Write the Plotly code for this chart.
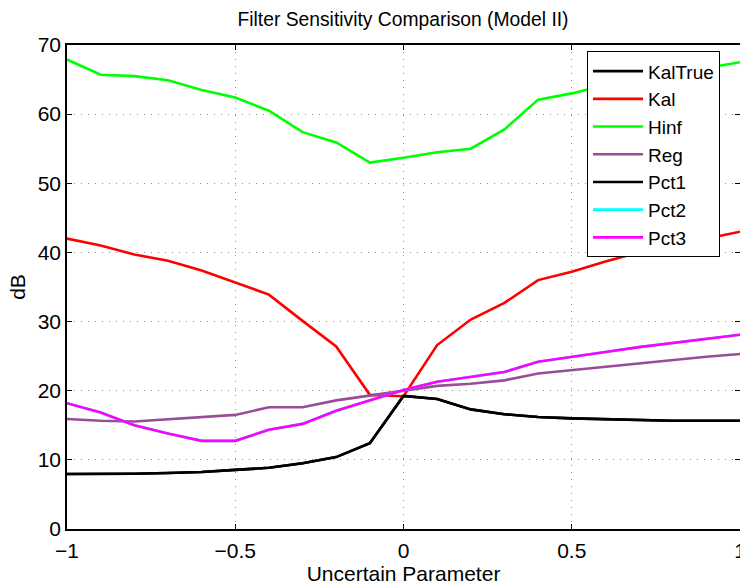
import plotly.graph_objects as go

x = [-1.0, -0.9, -0.8, -0.7, -0.6, -0.5, -0.4, -0.3, -0.2, -0.1, 0.0,
     0.1, 0.2, 0.3, 0.4, 0.5, 0.6, 0.7, 0.8, 0.9, 1.0]

kaltrue = [7.95, 7.95, 8.0, 8.1, 8.25, 8.55, 8.85, 9.5, 10.4, 12.4, 19.25,
           18.8, 17.3, 16.6, 16.2, 16.0, 15.85, 15.75, 15.65, 15.65, 15.65]
kal = [42.0, 41.0, 39.7, 38.8, 37.4, 35.6, 33.9, 30.1, 26.4, 19.4, 19.2,
       26.6, 30.3, 32.7, 36.0, 37.2, 38.7, 40.0, 41.0, 42.0, 43.0]
hinf = [67.9, 65.7, 65.5, 64.9, 63.5, 62.4, 60.5, 57.4, 55.9, 53.0, 53.7,
        54.5, 55.0, 57.8, 62.1, 63.0, 64.2, 65.0, 65.8, 66.6, 67.5]
reg = [15.9, 15.65, 15.55, 15.9, 16.2, 16.5, 17.6, 17.6, 18.6, 19.3, 20.1,
       20.7, 21.0, 21.5, 22.5, 23.0, 23.5, 24.0, 24.4, 24.9, 25.3]
pct1 = list(kaltrue)
pct3 = [18.2, 16.85, 15.0, 13.8, 12.75, 12.75, 14.35, 15.2, 17.1, 18.6, 20.1,
        21.3, 21.95, 22.7, 24.2, 24.85, 25.6, 26.3, 26.9, 27.5, 28.1]
pct2 = list(pct3)

series = [
    ("KalTrue", kaltrue, "#000000"),
    ("Kal", kal, "#FF0000"),
    ("Hinf", hinf, "#00FF00"),
    ("Reg", reg, "#994D99"),
    ("Pct1", pct1, "#000000"),
    ("Pct2", pct2, "#00FFFF"),
    ("Pct3", pct3, "#FF00FF"),
]

fig = go.Figure()
for name, y, c in series:
    fig.add_trace(go.Scatter(x=x, y=y, name=name, mode="lines",
                             line=dict(color=c, width=2.6)))

font = "Liberation Sans, Arial, Helvetica, sans-serif"
axis_common = dict(
    showline=True, linecolor="black", linewidth=1.5, mirror="ticks",
    ticks="inside", ticklen=5, tickcolor="black",
    showgrid=True, gridcolor="#8c8c8c", griddash="1px,6px", gridwidth=1,
    zeroline=False, tickfont=dict(size=21, color="black", family=font),
    ticklabeloverflow="allow", automargin=False,
)

fig.update_layout(
    width=740, height=585,
    margin=dict(l=67, r=0, t=45, b=56, autoexpand=False),
    paper_bgcolor="white", plot_bgcolor="white",
    font=dict(family=font, color="black"),
    title=dict(text="Filter Sensitivity Comparison (Model II)",
               x=403 / 740, xanchor="center", y=1 - 19 / 585, yanchor="middle",
               font=dict(size=19.3, color="black")),
    xaxis=dict(range=[-1, 1], tickvals=[-1, -0.5, 0, 0.5, 1],
               ticktext=["\u22121", "\u22120.5", "0", "0.5", "1"],
               ticklabelstandoff=2,
               title=dict(text="Uncertain Parameter", font=dict(size=21), standoff=0),
               **axis_common),
    yaxis=dict(range=[0, 70], tickvals=[0, 10, 20, 30, 40, 50, 60, 70],
               title=dict(text="dB", font=dict(size=21), standoff=6),
               **axis_common),
    legend=dict(x=(587 - 67) / 673, y=0.987, xanchor="left", yanchor="top",
                bgcolor="white", bordercolor="black", borderwidth=1,
                font=dict(size=19, color="black"), tracegroupgap=0,
                itemwidth=50),
    showlegend=True,
)

fig.write_html("out.html")
